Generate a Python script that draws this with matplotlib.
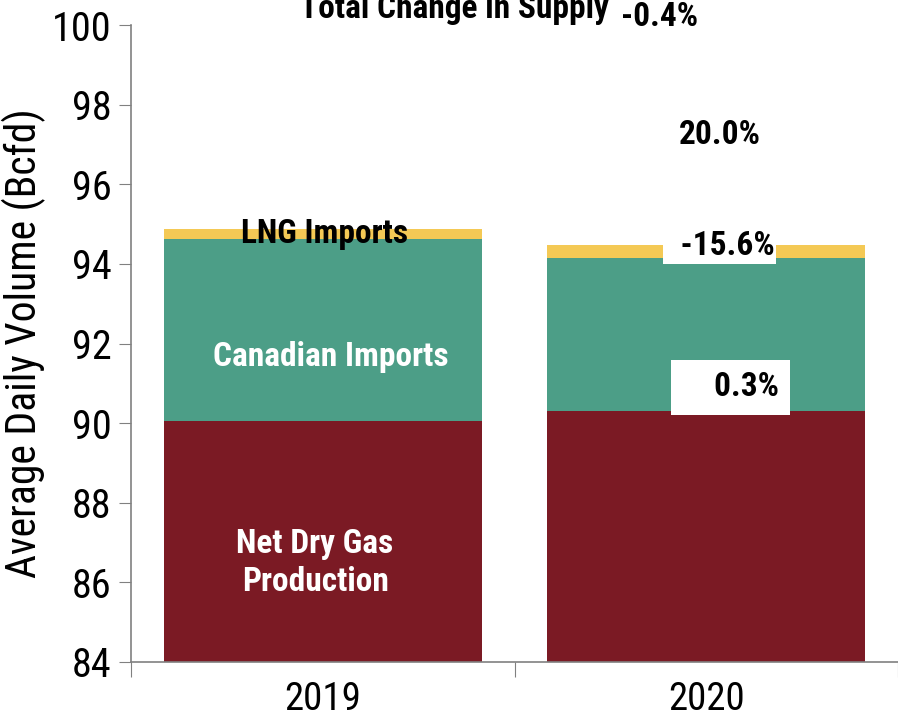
import numpy as np
import matplotlib.pyplot as plt

plt.rcParams['font.family'] = ['Roboto Condensed', 'Liberation Sans', 'DejaVu Sans']

years = ['2019', '2020']
dry_gas = [90.05, 90.31]
canadian = [4.58, 3.84]
lng = [0.25, 0.33]

c_dry = '#7B1A24'
c_can = '#4C9E87'
c_lng = '#F4C955'

fig = plt.figure(figsize=(8.98, 7.25), dpi=100)
ax = fig.add_axes([0.1459, 0.0869, 0.8541, 0.8786])

x = np.arange(len(years))
w = 0.83
dry = np.array(dry_gas)
can = np.array(canadian)
ax.bar(x, dry, w, color=c_dry)
ax.bar(x, can, w, bottom=dry, color=c_can)
ax.bar(x, lng, w, bottom=dry + can, color=c_lng)

ax.set_ylim(84, 100)
ax.set_xlim(-0.5, 1.4175)
ax.set_yticks(range(84, 101, 2))
ax.tick_params(axis='y', labelsize=29, length=9, color='#808080', pad=5)

# category boundaries as major ticks, labels on minor ticks
ax.set_xticks([-0.5, 0.5, 1.5])
ax.set_xticklabels([])
ax.tick_params(axis='x', which='major', length=11, color='#808080', direction='out')
ax.set_xticks(x, minor=True)
ax.set_xticklabels(years, minor=True)
ax.tick_params(axis='x', which='minor', length=0, labelsize=28, pad=14)

for s in ['top', 'right']:
    ax.spines[s].set_visible(False)
for s in ['left', 'bottom']:
    ax.spines[s].set_color('#808080')
    ax.spines[s].set_linewidth(1.2)

ax.set_ylabel('Average Daily Volume (Bcfd)', fontsize=30, labelpad=4)

# segment labels
ax.text(0.005, 94.75, 'LNG Imports', ha='center', va='center', fontsize=24,
        fontweight='bold', color='black')
ax.text(0.02, 91.66, 'Canadian Imports', ha='center', va='center', fontsize=24,
        fontweight='bold', color='white')
ax.text(-0.02, 86.49, 'Net Dry Gas\nProduction', ha='center', va='center',
        fontsize=24, fontweight='bold', color='white', linespacing=1.25)

# change annotations
ax.text(0.3425, 100.4, 'Total Change in Supply', ha='center', va='center',
        fontsize=24, fontweight='bold', clip_on=False)
ax.text(0.8775, 100.2, '-0.4%', ha='center', va='center', fontsize=24,
        fontweight='bold', clip_on=False)
ax.text(1.035, 97.24, '20.0%', ha='center', va='center', fontsize=24,
        fontweight='bold')
ax.text(1.035, 94.45, '  -15.6%', ha='center', va='center', fontsize=24,
        fontweight='bold',
        bbox=dict(boxstyle='square,pad=0.05', fc='white', ec='none'))
ax.text(1.064, 90.9, '    0.3%', ha='center', va='center', fontsize=24,
        fontweight='bold',
        bbox=dict(boxstyle='square,pad=0.35', fc='white', ec='none'))

fig.savefig('out.png', dpi=100)
